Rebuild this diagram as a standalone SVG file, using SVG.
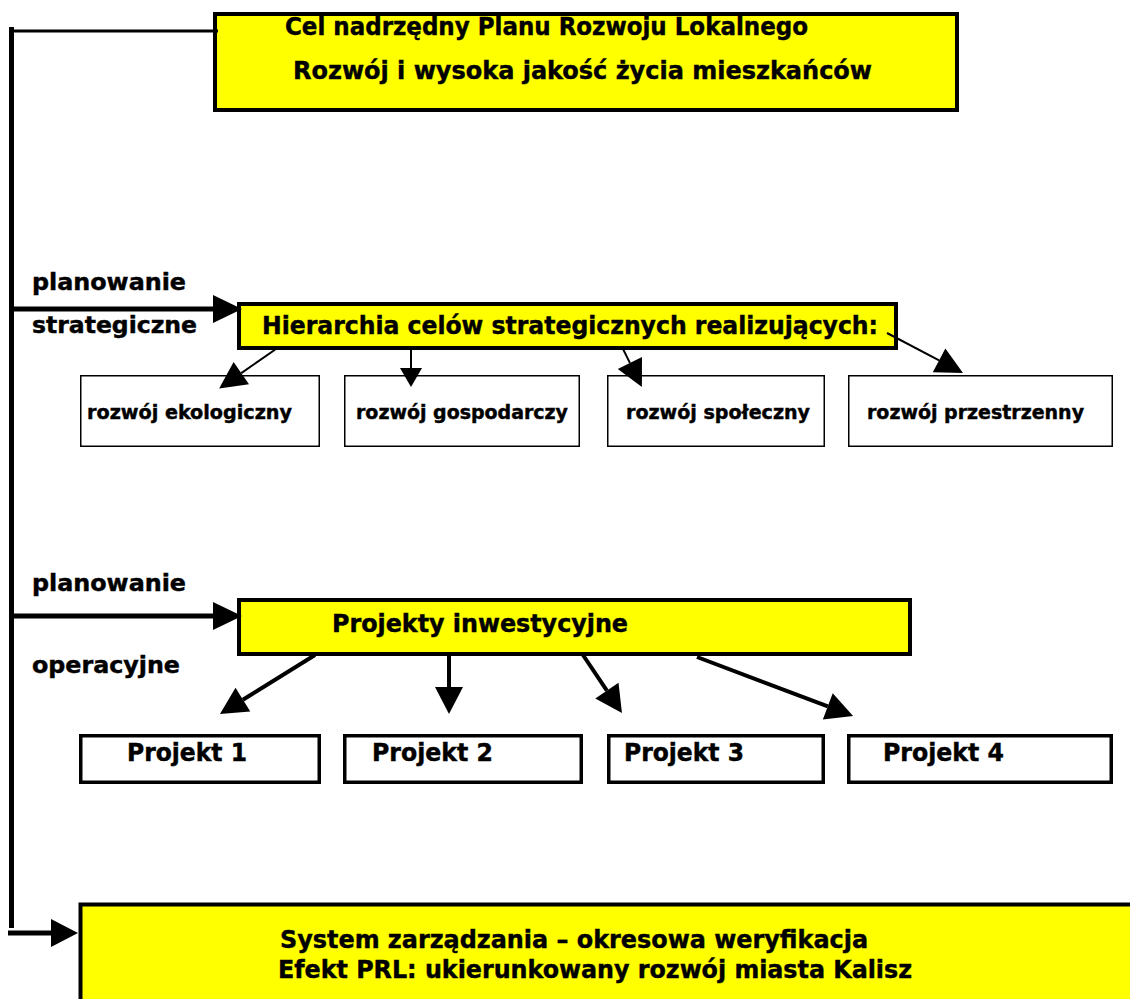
<svg xmlns="http://www.w3.org/2000/svg" width="1130" height="999" viewBox="0 0 1130 999">
<style>
.t{font-family:"DejaVu Sans Condensed","DejaVu Sans","Liberation Sans",sans-serif;font-weight:bold;fill:#000;stroke:#000;stroke-width:0.4}
.big{font-size:25px}
.lbl{font-size:23px}
.sm{font-size:19px}
.yb{fill:#ffff00;stroke:#000;stroke-width:4}
.wb{fill:#fff;stroke:#000;stroke-width:1.5}
.pb{fill:#fff;stroke:#000;stroke-width:3.5}
.thin{stroke:#000;stroke-width:2;fill:none}
.thick{stroke:#000;stroke-width:4;fill:none}
.bus{stroke:#000;stroke-width:5;fill:none}
</style>
<defs>
<marker id="mThin" markerUnits="userSpaceOnUse" markerWidth="27" markerHeight="27" refX="0" refY="13.5" orient="auto" overflow="visible"><path d="M0,0 L27,13.5 L0,27 z" fill="#000"/></marker>
<marker id="mSmall" markerUnits="userSpaceOnUse" markerWidth="19" markerHeight="22" refX="0" refY="11" orient="auto" overflow="visible"><path d="M0,0 L19,11 L0,22 z" fill="#000"/></marker>
<marker id="mThick" markerUnits="userSpaceOnUse" markerWidth="27" markerHeight="28" refX="0" refY="14" orient="auto" overflow="visible"><path d="M0,0 L27,14 L0,28 z" fill="#000"/></marker>
<marker id="mH" markerUnits="userSpaceOnUse" markerWidth="29" markerHeight="28" refX="0" refY="14" orient="auto" overflow="visible"><path d="M0,0 L29,14 L0,28 z" fill="#000"/></marker>
</defs>
<rect width="1130" height="999" fill="#fff"/>

<g id="cel">
<rect class="yb" x="215" y="14" width="742" height="96"/>
<text class="t big" x="285" y="35" textLength="523" lengthAdjust="spacingAndGlyphs">Cel nadrzędny Planu Rozwoju Lokalnego</text>
<text class="t big" x="293" y="79" textLength="579" lengthAdjust="spacingAndGlyphs">Rozwój i wysoka jakość życia mieszkańców</text>
</g>

<g id="labels">
<text class="t lbl" x="32" y="290" textLength="154" lengthAdjust="spacingAndGlyphs">planowanie</text>
<text class="t lbl" x="32" y="333" textLength="165" lengthAdjust="spacingAndGlyphs">strategiczne</text>
<text class="t lbl" x="32" y="591" textLength="154" lengthAdjust="spacingAndGlyphs">planowanie</text>
<text class="t lbl" x="32" y="673" textLength="148" lengthAdjust="spacingAndGlyphs">operacyjne</text>
</g>

<g id="hierarchia">
<rect class="yb" x="239" y="304" width="657" height="44" stroke-width="3.5"/>
<text class="t big" x="262" y="334" textLength="616" lengthAdjust="spacingAndGlyphs">Hierarchia celów strategicznych realizujących:</text>
</g>

<g id="ekologiczny">
<rect class="wb" x="80.75" y="375.75" width="238.5" height="70.5"/>
<text class="t sm" x="87" y="419" textLength="205" lengthAdjust="spacingAndGlyphs">rozwój ekologiczny</text>
</g>
<g id="gospodarczy">
<rect class="wb" x="344.75" y="375.75" width="234.5" height="70.5"/>
<text class="t sm" x="356" y="419" textLength="212" lengthAdjust="spacingAndGlyphs">rozwój gospodarczy</text>
</g>
<g id="spoleczny">
<rect class="wb" x="607.75" y="375.75" width="216.5" height="70.5"/>
<text class="t sm" x="626" y="419" textLength="184" lengthAdjust="spacingAndGlyphs">rozwój społeczny</text>
</g>
<g id="przestrzenny">
<rect class="wb" x="848.75" y="375.75" width="263.5" height="70.5"/>
<text class="t sm" x="867" y="419" textLength="217" lengthAdjust="spacingAndGlyphs">rozwój przestrzenny</text>
</g>

<g id="projekty">
<rect class="yb" x="239" y="600" width="671" height="54" stroke-width="3.5"/>
<text class="t big" x="332" y="632" textLength="296" lengthAdjust="spacingAndGlyphs">Projekty inwestycyjne</text>
</g>

<g id="projekt1">
<rect class="pb" x="80.75" y="735.75" width="238.5" height="46.5"/>
<text class="t big" x="127" y="761" textLength="120" lengthAdjust="spacingAndGlyphs">Projekt 1</text>
</g>
<g id="projekt2">
<rect class="pb" x="344.75" y="735.75" width="236.5" height="46.5"/>
<text class="t big" x="372" y="761" textLength="121" lengthAdjust="spacingAndGlyphs">Projekt 2</text>
</g>
<g id="projekt3">
<rect class="pb" x="608.75" y="735.75" width="214.5" height="46.5"/>
<text class="t big" x="624" y="761" textLength="120" lengthAdjust="spacingAndGlyphs">Projekt 3</text>
</g>
<g id="projekt4">
<rect class="pb" x="848.75" y="735.75" width="262.5" height="46.5"/>
<text class="t big" x="883" y="761" textLength="121" lengthAdjust="spacingAndGlyphs">Projekt 4</text>
</g>

<g id="system">
<rect class="yb" x="80.5" y="904.5" width="1100" height="200" stroke-width="5"/>
<text class="t big" x="280" y="948" textLength="588" lengthAdjust="spacingAndGlyphs">System zarządzania – okresowa weryfikacja</text>
<text class="t big" x="278" y="978" textLength="634" lengthAdjust="spacingAndGlyphs">Efekt PRL: ukierunkowany rozwój miasta Kalisz</text>
</g>

<g id="connectors">
<line class="bus" x1="11.5" y1="27" x2="11.5" y2="928"/>
<line x1="10" y1="31" x2="218" y2="31" stroke="#000" stroke-width="3"/>
<line class="bus" x1="12" y1="309" x2="213" y2="309" marker-end="url(#mH)"/>
<line class="bus" x1="12" y1="616" x2="213" y2="616" marker-end="url(#mH)"/>
<line class="bus" x1="8" y1="933" x2="51" y2="933" marker-end="url(#mThick)"/>
<line class="thin" x1="276" y1="349" x2="241.3" y2="373.1" marker-end="url(#mThin)"/>
<line class="thin" x1="411" y1="349" x2="411" y2="368" marker-end="url(#mSmall)"/>
<line class="thin" x1="623" y1="349" x2="629.9" y2="362.9" marker-end="url(#mThin)"/>
<line class="thin" x1="887" y1="333" x2="939.1" y2="360.4" marker-end="url(#mThin)"/>
<line class="thick" x1="315" y1="655" x2="242.9" y2="699.7" marker-end="url(#mThick)"/>
<line class="thick" x1="449" y1="655" x2="449" y2="687" marker-end="url(#mThick)"/>
<line class="thick" x1="583" y1="655" x2="606.9" y2="690.6" marker-end="url(#mThick)"/>
<line class="thick" x1="697" y1="657" x2="827.8" y2="706.4" marker-end="url(#mThick)"/>
</g>
</svg>
